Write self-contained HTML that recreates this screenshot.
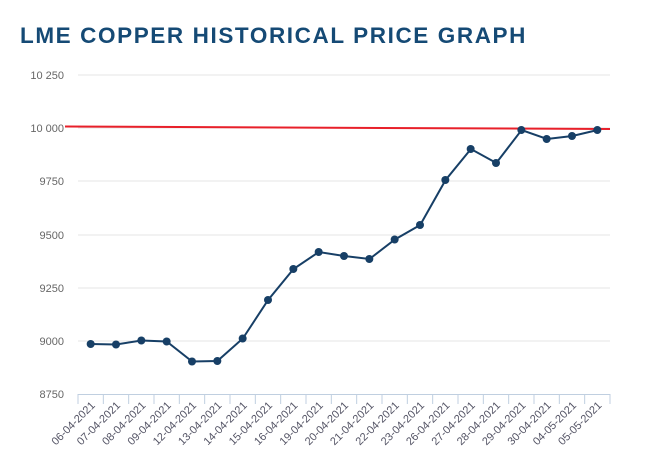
<!DOCTYPE html>
<html><head><meta charset="utf-8"><style>
body{margin:0;background:#fff;width:645px;height:462px;overflow:hidden}
svg{display:block;font-family:"Liberation Sans",sans-serif}
</style></head><body>
<svg width="645" height="462" xmlns="http://www.w3.org/2000/svg">
<text x="20" y="43" font-size="22.5" font-weight="bold" fill="#154a75" letter-spacing="1.6">LME COPPER HISTORICAL PRICE GRAPH</text>
<g stroke="#e6e6e6" stroke-width="1">
<line x1="78" y1="75" x2="610" y2="75"/>
<line x1="78" y1="128" x2="610" y2="128"/>
<line x1="78" y1="181" x2="610" y2="181"/>
<line x1="78" y1="235" x2="610" y2="235"/>
<line x1="78" y1="288" x2="610" y2="288"/>
<line x1="78" y1="341" x2="610" y2="341"/>
</g>
<g font-size="11" fill="#666" text-anchor="end">
<text x="64" y="79">10 250</text>
<text x="64" y="132">10 000</text>
<text x="64" y="185">9750</text>
<text x="64" y="239">9500</text>
<text x="64" y="292">9250</text>
<text x="64" y="345">9000</text>
<text x="64" y="398">8750</text>
</g>
<line x1="78" y1="394.5" x2="610" y2="394.5" stroke="#c0cfe0" stroke-width="1"/>
<g stroke="#c0cfe0" stroke-width="1" id="ticks"></g>
<line x1="65" y1="126.5" x2="610" y2="129" stroke="#e8202a" stroke-width="2"/>
<polyline fill="none" stroke="#173f66" stroke-width="2" points="90.7,344 116,344.5 141.4,340.5 166.7,341.5 192.1,361.5 217.4,361 242.8,338.5 268.1,300 293.5,269 318.8,252 344.2,256 369.5,259 394.9,239.5 420.2,225 445.6,180 470.9,149 496.3,163 521.6,130 547,139 572.3,136 597.7,130"/>
<g fill="#173f66" id="pts"></g>
<g font-size="11" fill="#556" id="labs"></g>
<script>
var pts=[344,344.5,340.5,341.5,361.5,361,338.5,300,269,252,256,259,239.5,225,180,149,163,130,139,136,130];
var labs=["06-04-2021","07-04-2021","08-04-2021","09-04-2021","12-04-2021","13-04-2021","14-04-2021","15-04-2021","16-04-2021","19-04-2021","20-04-2021","21-04-2021","22-04-2021","23-04-2021","26-04-2021","27-04-2021","28-04-2021","29-04-2021","30-04-2021","04-05-2021","05-05-2021"];
var ns="http://www.w3.org/2000/svg",w=532/21;
var T=document.getElementById("ticks"),P=document.getElementById("pts"),L=document.getElementById("labs");
for(var i=0;i<=21;i++){var l=document.createElementNS(ns,"line");var x=78+i*w;l.setAttribute("x1",x);l.setAttribute("x2",x);l.setAttribute("y1",394);l.setAttribute("y2",404);T.appendChild(l);}
for(var i=0;i<21;i++){var x=78+w*(i+0.5);var c=document.createElementNS(ns,"circle");c.setAttribute("cx",x);c.setAttribute("cy",pts[i]);c.setAttribute("r",4);P.appendChild(c);
var t=document.createElementNS(ns,"text");t.setAttribute("text-anchor","end");t.setAttribute("transform","translate("+(x+5)+",406) rotate(-45)");t.textContent=labs[i];L.appendChild(t);}
</script>
</svg>
</body></html>
